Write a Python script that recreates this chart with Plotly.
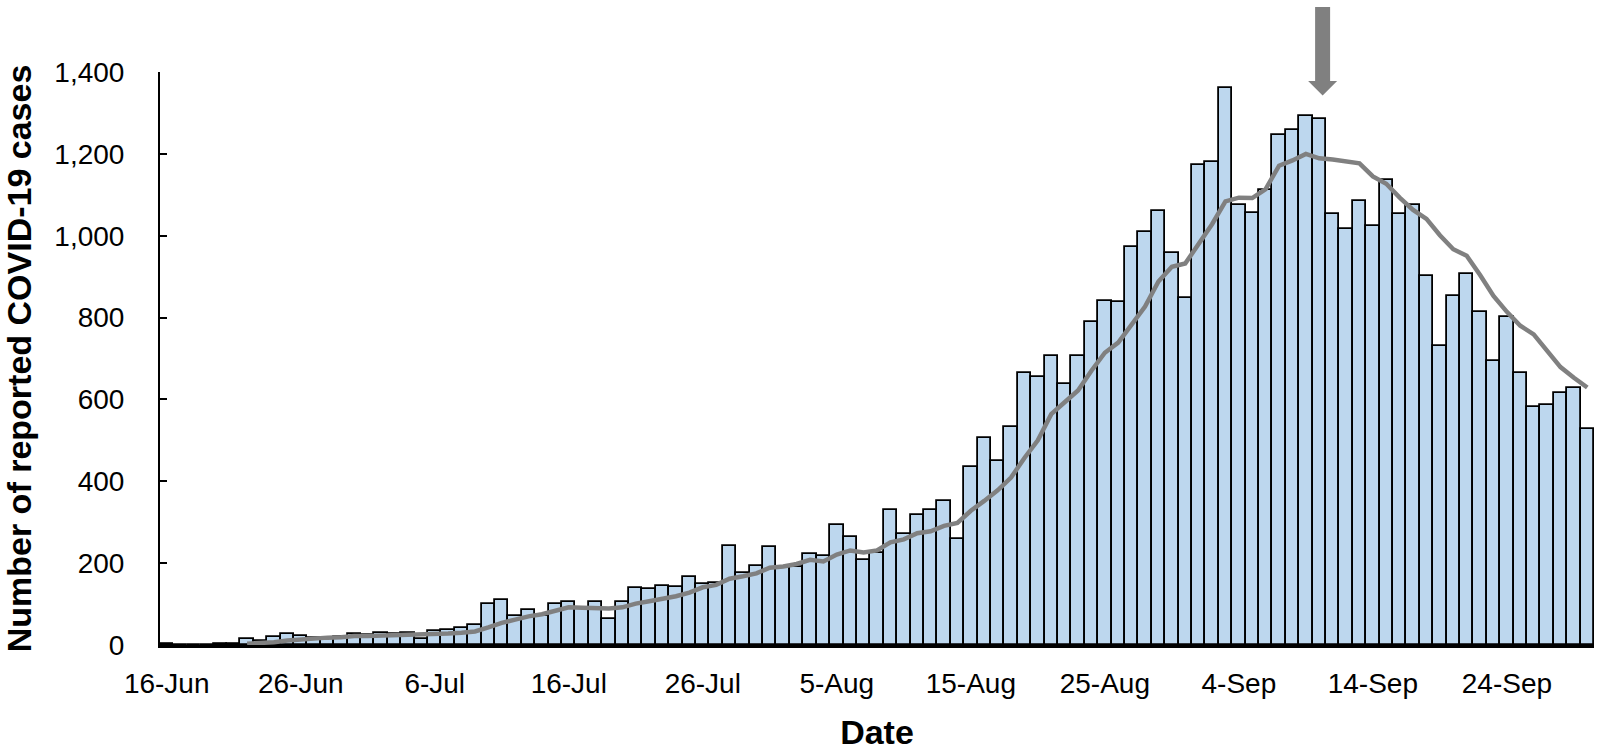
import pandas as pd
import plotly.graph_objects as go

# Daily reported cases, 16-Jun to 30-Sep
FIRST_DAY = "2020-06-16"
LAST_DAY = "2020-09-30"
cases = [
    2, 0, 0, 0, 2, 3, 14, 10, 20, 26,
    23, 18, 17, 19, 28, 24, 30, 27, 30, 14,
    34, 37, 41, 48, 99, 110, 70, 86, 72, 99,
    106, 91, 106, 63, 104, 140, 137, 145, 141, 167,
    150, 152, 242, 177, 194, 240, 189, 191, 223, 217,
    292, 264, 208, 225, 331, 272, 317, 329, 352, 258,
    434, 505, 450, 532, 665, 656, 705, 638, 705, 789,
    840, 837, 972, 1010, 1060, 958, 847, 1172, 1179, 1360,
    1075, 1056, 1111, 1247, 1259, 1292, 1284, 1054, 1017, 1084,
    1024, 1137, 1053, 1074, 901, 731, 852, 907, 813, 694,
    801, 665, 581, 586, 615, 629, 528,
]

# Smoothed (7-day average) curve, starts 22-Jun
avg_start = "2020-06-22"
avg_cases = [
    3, 4, 7, 11, 14, 16, 18, 19, 22, 22,
    23, 23, 25, 24, 26, 28, 30, 33, 43, 54,
    62, 70, 75, 83, 92, 91, 90, 89, 92, 101,
    107, 112, 119, 128, 141, 147, 162, 168, 175, 189,
    192, 198, 208, 204, 221, 231, 226, 231, 251, 258,
    273, 278, 291, 298, 328, 352, 378, 409, 457, 500,
    564, 593, 622, 670, 714, 739, 784, 827, 888, 924,
    932, 979, 1028, 1084, 1093, 1092, 1114, 1171, 1184, 1200,
    1189, 1186, 1181, 1177, 1145, 1127, 1093, 1063, 1041, 1001,
    967, 951, 904, 853, 814, 780, 759, 721, 679, 653,
    629,
]

peak_day = "2020-09-10 06:00"

days = pd.date_range(FIRST_DAY, LAST_DAY, freq="D")
avg_days = pd.date_range(avg_start, periods=len(avg_cases), freq="D")

FONT = "Liberation Sans, Arial, sans-serif"
DAY_MS = 24 * 3600 * 1000

fig = go.Figure()

fig.add_trace(go.Bar(
    x=days, y=cases,
    width=DAY_MS,
    marker=dict(color="#BDD7EE", line=dict(color="black", width=1.8)),
    showlegend=False,
))

fig.add_trace(go.Scatter(
    x=avg_days, y=avg_cases,
    mode="lines",
    line=dict(color="#808080", width=4.5),
    showlegend=False,
))

# grey arrow above the peak of the average curve
fig.add_shape(
    type="path",
    xref="x", yref="paper",
    xsizemode="pixel", ysizemode="pixel",
    xanchor=peak_day, yanchor=1,
    path="M -7.5 65 L 7.5 65 L 7.5 -9 L 14.5 -9 L 0 -23.5 L -14.5 -9 L -7.5 -9 Z",
    fillcolor="#808080",
    line=dict(width=0),
)

fig.update_layout(
    width=1601, height=752,
    margin=dict(l=160, r=7, t=72, b=103),
    plot_bgcolor="white",
    paper_bgcolor="white",
    bargap=0,
    font=dict(family=FONT, color="black"),
)

fig.update_xaxes(
    range=[pd.Timestamp(FIRST_DAY) - pd.Timedelta(hours=12),
           pd.Timestamp(LAST_DAY) + pd.Timedelta(hours=12)],
    tick0=FIRST_DAY, dtick=10 * DAY_MS,
    tickformat="%-d-%b",
    ticks="", showgrid=False, zeroline=False,
    showline=True, linecolor="black", linewidth=2.5,
    tickfont=dict(size=28),
    ticklabelstandoff=12,
    title=dict(text="<b>Date</b>", font=dict(size=34), standoff=22),
)

fig.update_yaxes(
    range=[0, 1400], dtick=200, tickformat=",",
    ticks="inside", ticklen=7, tickwidth=2, tickcolor="black",
    showgrid=False, zeroline=False,
    showline=True, linecolor="black", linewidth=2,
    tickfont=dict(size=28),
    ticklabelstandoff=28,
    title=dict(text="<b>Number of reported COVID-19 cases</b>", font=dict(size=34), standoff=22),
)

fig.write_html("out.html", config={"displayModeBar": False},
               post_script="document.body.style.margin='0';")
